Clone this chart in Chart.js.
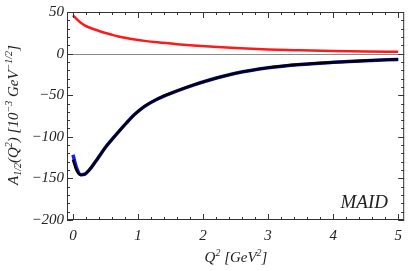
<!DOCTYPE html>
<html>
<head>
<meta charset="utf-8">
<script src="https://cdn.jsdelivr.net/npm/chart.js@4.4.0/dist/chart.umd.min.js"></script>
<style>
  body { margin: 0; background: #fff; }
  #wrap { width: 409px; height: 271px; }
</style>
</head>
<body>
<div id="wrap"><canvas id="myChart" width="409" height="271"></canvas></div>
<script>
// Q^2 grid (GeV^2)
var q2 = [0, 0.05, 0.12, 0.18, 0.28, 0.38, 0.5, 0.6, 0.7, 0.82, 0.95, 1.1, 1.3, 1.6, 1.85, 2.1, 2.5, 3.0, 3.5, 4.0, 4.5, 5.0];
// red curve
var redVals = [46, 42, 37, 34, 30.5, 27.8, 24.8, 22.6, 20.6, 18.7, 17, 15.3, 13.5, 11.3, 9.7, 8.4, 6.6, 5, 4, 3.2, 2.6, 2.1];
// blue curve (differs only near Q^2 = 0)
var blueVals = [-121.5, -136, -145.5, -145, -137, -126, -112.5, -103, -94, -83.5, -73, -63.5, -54.5, -44.8, -37.8, -31.7, -23.6, -17, -13, -10.5, -8.5, -7];
// black curve
var blackVals = [-127.5, -139.5, -146, -145, -137, -126, -112.5, -103, -94, -83.5, -73, -63.5, -54.5, -44.8, -37.8, -31.7, -23.6, -17, -13, -10.5, -8.5, -7];

var xTicks = [0, 1, 2, 3, 4, 5];
var yTicks = [-200, -150, -100, -50, 0, 50];

function pts(vals){
  return vals.map(function(v, i){ return {x: q2[i], y: v}; });
}

var serif = '"Liberation Serif", "DejaVu Serif", serif';

function drawRich(ctx, segs, x, y){
  var total = 0;
  segs.forEach(function(s){
    ctx.font = 'italic ' + s.size + 'px ' + serif;
    s.w = ctx.measureText(s.t).width;
    total += s.w;
  });
  var cx = x - total / 2;
  segs.forEach(function(s){
    ctx.font = 'italic ' + s.size + 'px ' + serif;
    ctx.fillText(s.t, cx, y + (s.dy || 0));
    cx += s.w;
  });
}

var framePlugin = {
  id: 'frame',
  beforeDatasetsDraw: function(chart){
    var ctx = chart.ctx, xs = chart.scales.x, ys = chart.scales.y;
    var y0 = Math.round(ys.getPixelForValue(0));
    ctx.save();
    ctx.strokeStyle = '#8a8a8a';
    ctx.lineWidth = 1;
    ctx.beginPath();
    ctx.moveTo(xs.left, y0 + 0.5);
    ctx.lineTo(xs.right, y0 + 0.5);
    ctx.stroke();
    ctx.restore();
  },
  afterDraw: function(chart){
    var ctx = chart.ctx, a = chart.chartArea;
    var xs = chart.scales.x, ys = chart.scales.y;
    ctx.save();
    ctx.strokeStyle = '#333';
    ctx.lineWidth = 1;
    ctx.strokeRect(a.left + 0.5, a.top + 0.5, a.right - a.left - 1, a.bottom - a.top - 1);
    ctx.beginPath();
    var i, v, p, len;
    for (i = 0; i <= 25; i++) {
      v = i * 0.2;
      p = Math.round(xs.getPixelForValue(v)) + 0.5;
      len = (i % 5 === 0) ? 6 : 3;
      ctx.moveTo(p, a.bottom); ctx.lineTo(p, a.bottom - len);
      ctx.moveTo(p, a.top); ctx.lineTo(p, a.top + len);
    }
    for (i = -20; i <= 5; i++) {
      v = i * 10;
      p = Math.round(ys.getPixelForValue(v)) + 0.5;
      len = (i % 5 === 0) ? 6 : 3;
      ctx.moveTo(a.left, p); ctx.lineTo(a.left + len, p);
      ctx.moveTo(a.right, p); ctx.lineTo(a.right - len, p);
    }
    ctx.stroke();

    ctx.fillStyle = '#222';
    ctx.textBaseline = 'alphabetic';
    // MAID label
    ctx.font = 'italic 19px ' + serif;
    ctx.textAlign = 'right';
    ctx.fillText('MAID', 388, 208);
    ctx.textAlign = 'left';

    // x title
    drawRich(ctx, [
      {t: 'Q', size: 15},
      {t: '2', size: 10, dy: -6},
      {t: ' [GeV', size: 15},
      {t: '2', size: 10, dy: -6},
      {t: ']', size: 15}
    ], 236, 262);

    // y title
    ctx.translate(18, 115);
    ctx.rotate(-Math.PI / 2);
    drawRich(ctx, [
      {t: 'A', size: 15},
      {t: '1/2', size: 10, dy: 3},
      {t: '(Q', size: 15},
      {t: '2', size: 10, dy: -6},
      {t: ') [10', size: 15},
      {t: '\u22123', size: 10, dy: -6},
      {t: ' GeV', size: 15},
      {t: '\u22121/2', size: 10, dy: -6},
      {t: ']', size: 15}
    ], 0, 0);
    ctx.restore();
  }
};

var ctx = document.getElementById('myChart');

new Chart(ctx, {
  type: 'line',
  data: {
    datasets: [
      {label: 'red', data: pts(redVals), borderColor: '#ff1a1a', borderWidth: 2.5, pointRadius: 0, cubicInterpolationMode: 'monotone', order: 1},
      {label: 'blue', data: pts(blueVals), borderColor: '#1a1aff', borderWidth: 3.5, pointRadius: 0, cubicInterpolationMode: 'monotone', order: 2},
      {label: 'black', data: pts(blackVals), borderColor: '#000', borderWidth: 2.6, pointRadius: 0, cubicInterpolationMode: 'monotone', order: 0}
    ]
  },
  options: {
    responsive: false,
    animation: false,
    layout: { padding: { top: 10, right: 3, left: 0, bottom: 0 } },
    plugins: {
      legend: { display: false },
      tooltip: { enabled: false }
    },
    scales: {
      x: {
        type: 'linear',
        min: -0.092,
        max: 5.092,
        grid: { display: false, drawTicks: false },
        border: { display: false },
        afterFit: function(s){ s.height = 51; },
        afterBuildTicks: function(s){ s.ticks = xTicks.map(function(v){ return {value: v}; }); },
        ticks: {
          padding: 7,
          color: '#222',
          font: { family: serif, size: 15, style: 'italic' },
          maxRotation: 0
        }
      },
      y: {
        min: -200,
        max: 50,
        grid: { display: false, drawTicks: false },
        border: { display: false },
        afterFit: function(s){ s.width = 67; },
        afterBuildTicks: function(s){ s.ticks = yTicks.map(function(v){ return {value: v}; }); },
        ticks: {
          padding: 3,
          color: '#222',
          font: { family: serif, size: 15, style: 'italic' },
          callback: function(v){ return String(v).replace('-', '\u2212'); }
        }
      }
    }
  },
  plugins: [framePlugin]
});
</script>
</body>
</html>
